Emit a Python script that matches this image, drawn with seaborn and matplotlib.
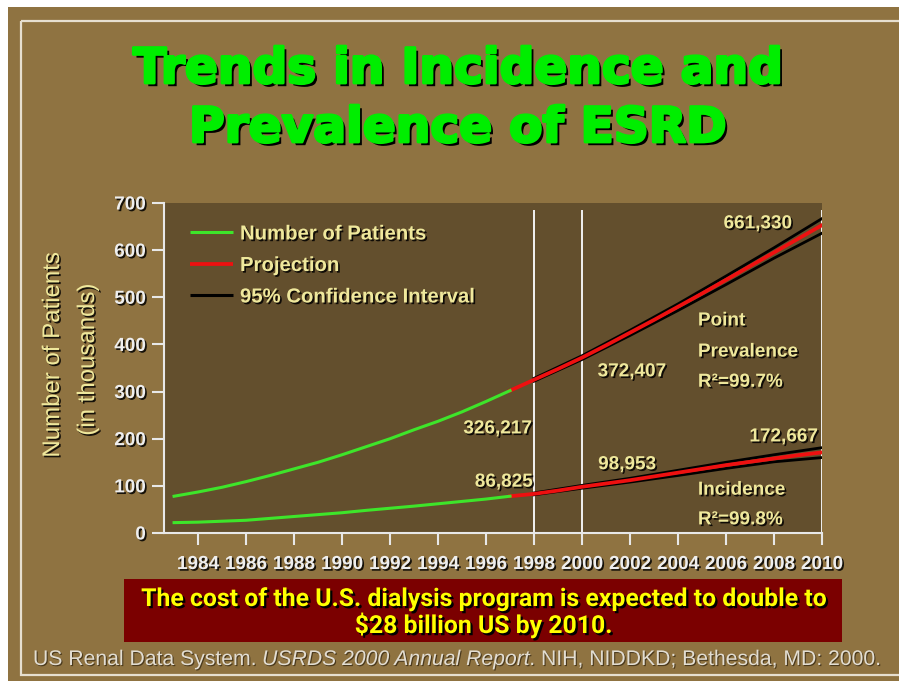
import os
import matplotlib
matplotlib.use("Agg")
import matplotlib.pyplot as plt
import matplotlib.patheffects as pe
from matplotlib.font_manager import FontProperties
from matplotlib.patches import Rectangle
from matplotlib.lines import Line2D
import seaborn as sns

# ---------------- data ----------------
hist_years = list(range(1983, 1998))
prevalence_hist = [78, 87, 97, 109, 122, 136, 150, 166, 183, 200, 219, 237, 257, 279, 302]
incidence_hist = [22, 23, 25, 27, 31, 35, 39, 43, 48, 52.5, 57, 62, 67, 72, 78]

proj_years = list(range(1997, 2011))
prevalence_proj = [302, 325, 348, 372, 398, 425, 452, 480, 508, 537, 566, 595, 624, 653]
incidence_proj = [78, 83, 90, 98, 105, 112, 120, 128, 136, 144, 151, 158, 165, 171]

ci_years = [1998, 2000, 2002, 2004, 2006, 2008, 2010]
prevalence_ci_upper = [328, 376, 430, 486, 545, 605, 667]
prevalence_ci_lower = [322, 368, 419, 472, 527, 583, 636]
incidence_ci_upper = [85, 101, 116, 133, 150, 166, 181]
incidence_ci_lower = [81, 95, 108, 122, 137, 151, 160]

x_ticks = list(range(1984, 2011, 2))
y_ticks = list(range(0, 701, 100))
divider_years = [1998, 2000, 2010]

legend_labels = ["Number of Patients", "Projection", "95% Confidence Interval"]
title_lines = ["Trends in Incidence and", "Prevalence of ESRD"]
ylabel_lines = ["Number of Patients", "(in thousands)"]
banner_lines = ["The cost of the U.S. dialysis program is expected to double to",
                "$28 billion US by 2010."]
footer_parts = [("US Renal Data System. ", "normal"),
                ("USRDS 2000 Annual Report", "italic"),
                (". NIH, NIDDKD; Bethesda, MD: 2000.", "normal")]

# value annotations: (text, year, value, ha)
value_labels = [("661,330", 2007.33, 660, "center"),
                ("372,407", 2002.08, 346, "center"),
                ("326,217", 1997.92, 225, "right"),
                ("86,825", 1997.96, 112, "right"),
                ("98,953", 2001.88, 149, "center"),
                ("172,667", 2009.85, 208, "right")]
fit_labels = [("Point", 2004.83, 454), ("Prevalence", 2004.83, 388),
              ("R\u00b2=99.7%", 2004.83, 324),
              ("Incidence", 2004.83, 95), ("R\u00b2=99.8%", 2004.83, 32)]

# ---------------- colours ----------------
TAN = "#8f7341"
PLOT_BG = "#634f2d"
GREEN = "#3ee52a"
RED = "#ee1010"
PALE = "#efe89c"
TICKCOL = "#eeeeee"
FRAME = "#e6dfd0"


def lab_font(size):
    return FontProperties(family="Liberation Sans", weight="bold", size=size)


shadow = [pe.withSimplePatchShadow(offset=(1.2, -1.2), shadow_rgbFace="black", alpha=0.85)]

W, H = 899, 681
fig = plt.figure(figsize=(W / 100, H / 100), dpi=100, facecolor="white")
renderer = fig.canvas.get_renderer()


def fit_width(t, w):
    bb = t.get_window_extent(renderer)
    t.set_fontsize(t.get_fontsize() * w / bb.width)
    return t.get_fontsize()


# background axes in pixel coordinates
bg = fig.add_axes([0, 0, 1, 1])
bg.set_xlim(0, W)
bg.set_ylim(H, 0)
bg.axis("off")
bg.add_patch(Rectangle((8, 7), W, H, facecolor=TAN, edgecolor="none"))
bg.add_patch(Rectangle((21, 21), W + 20, 654, facecolor="none", edgecolor=FRAME, lw=1.6))
bg.add_patch(Rectangle((124, 579), 718, 63, facecolor="#7b0000", edgecolor="none"))

# title
title_fx = [pe.SimplePatchShadow(offset=(2.3, -2.3), shadow_rgbFace="black", alpha=1.0),
            pe.Stroke(linewidth=2.0, foreground="#00ee00"), pe.Normal()]
t1 = bg.text(458, 83, title_lines[0], ha="center", va="baseline", color="#00ee00",
             fontsize=35, fontweight="bold", family="DejaVu Sans")
tsize = fit_width(t1, 650)
t2 = bg.text(458, 142, title_lines[1], ha="center", va="baseline", color="#00ee00",
             fontsize=tsize, fontweight="bold", family="DejaVu Sans")
for t in (t1, t2):
    t.set_path_effects(title_fx)

# y label (two rotated lines)
yl1 = bg.text(53, 355, ylabel_lines[0], rotation=90, ha="center", va="center",
              color=PALE, fontsize=16, family="Liberation Sans")
bb = yl1.get_window_extent(renderer)
yl1.set_fontsize(yl1.get_fontsize() * 206 / bb.height)
yl2 = bg.text(88, 360, ylabel_lines[1], rotation=90, ha="center", va="center",
              color=PALE, fontsize=yl1.get_fontsize(), family="Liberation Sans")
for t in (yl1, yl2):
    t.set_path_effects(shadow)

# banner text
b1 = bg.text(483, 606, banner_lines[0], ha="center", va="baseline", color="#ffff00",
             fontsize=14, fontweight="bold", family="Roboto")
bsz = fit_width(b1, 688)
b2 = bg.text(483, 633, banner_lines[1], ha="center", va="baseline", color="#ffff00",
             fontsize=bsz, fontweight="bold", family="Roboto")
for t in (b1, b2):
    t.set_path_effects([pe.withSimplePatchShadow(offset=(1.6, -1.6), shadow_rgbFace="black", alpha=1.0)])

# footer with italic middle part
ftexts = [bg.text(0, 665, s, ha="left", va="baseline", color="#e2ddd2", fontsize=14,
                  family="Liberation Sans", style=st) for s, st in footer_parts]
total = sum(t.get_window_extent(renderer).width for t in ftexts)
scale = 852 / total
for t in ftexts:
    t.set_fontsize(t.get_fontsize() * scale)
x = 33
for t in ftexts:
    t.set_x(x)
    x += t.get_window_extent(renderer).width
    t.set_path_effects([pe.withSimplePatchShadow(offset=(0.8, -0.8), shadow_rgbFace="#3a2c14", alpha=0.8)])

# font sizes fitted to reference widths
tmp = bg.text(0, 0, "1984", fontproperties=lab_font(13))
tick_size = fit_width(tmp, 42)
tmp.remove()
tmp = bg.text(0, 0, legend_labels[0], fontproperties=lab_font(13))
leg_size = fit_width(tmp, 186)
tmp.remove()

# ---------------- main chart ----------------
ax = fig.add_axes([164 / W, 1 - 533 / H, (822 - 164) / W, (533 - 203) / H])
ax.set_zorder(2)
ax.set_facecolor(PLOT_BG)

for yrs, vals in [(ci_years, prevalence_ci_upper), (ci_years, prevalence_ci_lower),
                  (ci_years, incidence_ci_upper), (ci_years, incidence_ci_lower)]:
    sns.lineplot(x=yrs, y=vals, color="black", lw=2.0, ax=ax, legend=False)
for vals in (prevalence_proj, incidence_proj):
    sns.lineplot(x=proj_years, y=vals, color=RED, lw=2.7, ax=ax, legend=False)
for vals in (prevalence_hist, incidence_hist):
    sns.lineplot(x=hist_years, y=vals, color=GREEN, lw=2.2, ax=ax, legend=False)

ax.vlines(divider_years, 0, 685, color="#f2f2f2", lw=1.4, zorder=1)

ax.set_xlim(1982.58, 2010.0)
ax.set_ylim(0, 700)
ax.set_xlabel("")
ax.set_ylabel("")
ax.grid(False)
for s in ("top", "right"):
    ax.spines[s].set_visible(False)
for s in ("left", "bottom"):
    ax.spines[s].set_color("#e8e8e8")
    ax.spines[s].set_linewidth(1.5)

ax.set_xticks(x_ticks)
ax.set_xticklabels([str(v) for v in x_ticks])
ax.set_yticks(y_ticks)
ax.set_yticklabels([str(v) for v in y_ticks])
ax.tick_params(axis="both", direction="out", length=8.6, width=1.5, color="#e8e8e8",
               labelcolor=TICKCOL)
ax.tick_params(axis="x", pad=8)
ax.tick_params(axis="y", pad=4.5)
for lab in ax.get_xticklabels() + ax.get_yticklabels():
    lab.set_fontproperties(lab_font(tick_size))
    lab.set_path_effects(shadow)

# legend (placed in axes fraction coordinates)
leg_colors = [GREEN, RED, "black"]
leg_widths = [2.2, 2.7, 2.2]
leg_rows_px = [232, 263.5, 295]
for lbl, col, lw, ypx in zip(legend_labels, leg_colors, leg_widths, leg_rows_px):
    yf = (533 - ypx) / 330
    ax.add_line(Line2D([(190 - 164) / 658, (233 - 164) / 658], [yf, yf], color=col, lw=lw,
                       transform=ax.transAxes, solid_capstyle="butt"))
    ax.text((240 - 164) / 658, yf, lbl, transform=ax.transAxes, ha="left",
            va="center_baseline", color=PALE, fontproperties=lab_font(leg_size),
            path_effects=shadow)

# annotations
for s, xv, yv, ha in value_labels:
    ax.text(xv, yv, s, ha=ha, va="center_baseline", color=PALE,
            fontproperties=lab_font(tick_size), path_effects=shadow, zorder=5)
for s, xv, yv in fit_labels:
    ax.text(xv, yv, s, ha="left", va="center_baseline", color=PALE,
            fontproperties=lab_font(tick_size), path_effects=shadow, zorder=5)

fig.canvas.draw()
for lab in ax.get_xticklabels() + ax.get_yticklabels():
    lab.set_path_effects(shadow)

fig.savefig("out.png", dpi=100, facecolor="white")
